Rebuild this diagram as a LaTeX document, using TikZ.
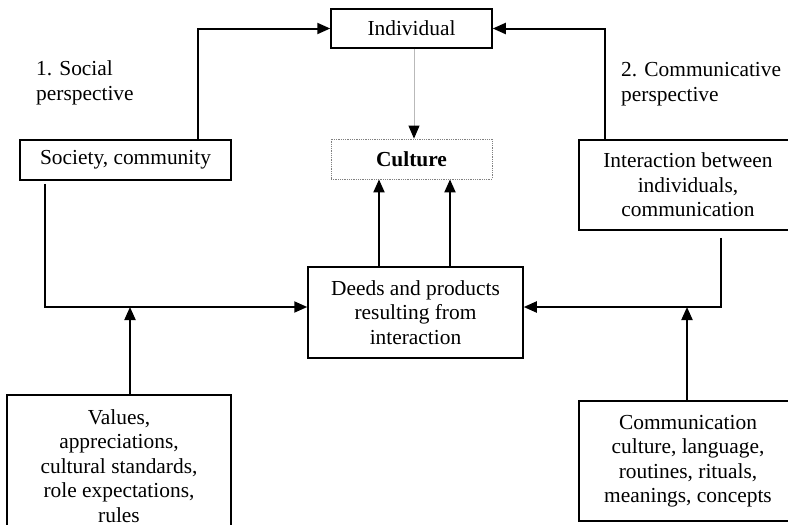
\documentclass[tikz,border=0pt]{standalone}
\usepackage{fontspec}
\setmainfont{Liberation Serif}
\usetikzlibrary{arrows.meta}
\begin{document}
\begin{tikzpicture}[x=1pt,y=-1pt,
  box/.style={draw,line width=1.5pt,rectangle,inner sep=0pt,align=center,
    font=\fontsize{21.4}{24.5}\selectfont},
  dotbox/.style={draw=gray,densely dotted,line width=0.8pt,rectangle,inner sep=0pt,align=center,
    font=\fontsize{21.4}{24.5}\selectfont\bfseries},
  lbl/.style={inner sep=0pt,align=left,font=\fontsize{21.4}{24.5}\selectfont},
  arr/.style={line width=2pt,-{Triangle[length=13pt,width=11pt]}}]
\useasboundingbox (0,0) rectangle (788,525);
\clip (0,0) rectangle (788,525);
\node[box,minimum width=161pt,minimum height=39pt] (ind) at (411.5,28.5) {Individual};
\node[dotbox,minimum width=161pt,minimum height=40pt] (cul) at (411.5,159) {Culture};
\node[box,minimum width=211pt,minimum height=40pt] (soc) at (125.5,160) {Society, community};
\node[box,minimum width=218pt,minimum height=90pt] (int) at (688,185) {Interaction between\\individuals,\\communication};
\node[box,minimum width=215pt,minimum height=91pt] (dee) at (415.5,312.5) {Deeds and products\\resulting from\\interaction};
\node[box,minimum width=224pt,minimum height=142pt] (val) at (119,466) {Values,\\appreciations,\\cultural standards,\\role expectations,\\rules};
\node[box,minimum width=218pt,minimum height=120pt] (com) at (688,461) {Communication\\culture, language,\\routines, rituals,\\meanings, concepts};
\node[lbl,anchor=west] (l1) at (36,83) {1. Social\\perspective};
\node[lbl,anchor=west] (l2) at (621,84) {2. Communicative\\perspective};
\coordinate (j1) at (130,307);
\coordinate (j2) at (687,307);
% connectors
\draw[arr] ([xshift=72.5pt]soc.north) |- (ind.west);
\draw[arr] ([xshift=-83pt]int.north) |- (ind.east);
\draw[line width=1pt,draw=gray!55,-{Triangle[length=13pt,width=11pt,color=black]}] ([xshift=2.5pt]ind.south) -- ([xshift=2.5pt]cul.north);
\draw[arr] ([xshift=-36.5pt]dee.north) -- ([xshift=-36.5pt]dee.north |- cul.south);
\draw[arr] ([xshift=34.5pt]dee.north) -- ([xshift=34.5pt]dee.north |- cul.south);
\draw[arr] ([xshift=-80.5pt,yshift=-3pt]soc.south) |- ([yshift=5.5pt]dee.west);
\draw[arr] ([xshift=33pt,yshift=-7pt]int.south) |- ([yshift=5.5pt]dee.east);
\draw[arr] ([xshift=11pt]val.north) -- (j1);
\draw[arr] ([xshift=-1pt]com.north) -- (j2);
\end{tikzpicture}
\end{document}
